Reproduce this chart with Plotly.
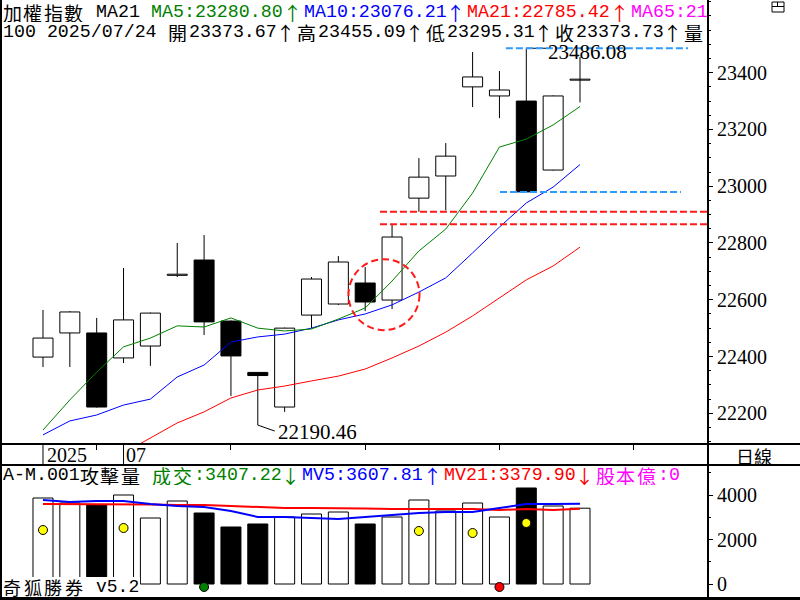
import plotly.graph_objects as go

# ---------------- data ----------------
dates = ["2025/06/26", "2025/06/27", "2025/06/30", "2025/07/01", "2025/07/02",
         "2025/07/03", "2025/07/04", "2025/07/07", "2025/07/08", "2025/07/09",
         "2025/07/10", "2025/07/11", "2025/07/14", "2025/07/15", "2025/07/16",
         "2025/07/17", "2025/07/18", "2025/07/21", "2025/07/22", "2025/07/23",
         "2025/07/24"]
opens = [22398, 22483, 22483, 22395, 22437, 22686, 22740, 22525, 22344, 22222,
         22546, 22585, 22659, 22599, 22958, 23036, 23350, 23318, 23300, 23057, 23373.67]
highs = [22564, 22560, 22536, 22712, 22555, 22800, 22828, 22527, 22345, 22502,
         22680, 22754, 22715, 22866, 23099, 23152, 23473, 23406, 23486.08, 23320, 23455.09]
lows = [22363, 22363, 22220, 22377, 22367, 22680, 22476, 22261, 22190.46, 22205,
        22500, 22582, 22560, 22567, 22910, 22915, 23279, 23240, 22978, 23055, 23295.31]
closes = [22465, 22557, 22222, 22529, 22553, 22690, 22522, 22402, 22333, 22500,
          22673, 22733, 22592, 22821, 23032, 23106, 23385, 23339, 22980, 23318, 23373.73]

ma5 = [22141, 22247, 22345, 22434, 22465, 22508, 22504, 22536, 22500, 22490,
       22497, 22532, 22571, 22666, 22772, 22849, 22976, 23138, 23166, 23216, 23280.80]
ma10 = [22124, 22173, 22194, 22229, 22250, 22328, 22370, 22451, 22469, 22479,
        22500, 22529, 22550, 22582, 22627, 22677, 22765, 22856, 22941, 22997, 23076.21]
ma21 = [None, None, None, 22060, 22113, 22166, 22205, 22254, 22282, 22296,
        22314, 22331, 22356, 22395, 22437, 22486, 22543, 22606, 22670, 22719, 22785.42]
ma65_label = "21"

volumes = [3865, 3640, 3551, 4000, 2966, 3730, 3191, 2562, 2697, 3011,
           3146, 3236, 2697, 3011, 3775, 3281, 3640, 3011, 4315, 3506, 3407.22]
mv5 = [3775, 3685, 3730, 3730, 3596, 3506, 3461, 3281, 3011, 3011,
       2966, 2921, 3011, 3101, 3191, 3236, 3236, 3416, 3596, 3596, 3607.81]
mv21 = [3596, 3596, 3596, 3596, 3573, 3551, 3551, 3506, 3461, 3416,
        3416, 3416, 3393, 3371, 3371, 3371, 3371, 3326, 3371, 3326, 3379.90]

yellow_idx = [0, 3, 14, 16, 18]
yellow_val = [2427, 2517, 2382, 2292, 2742]
green_idx = [6]
red_idx = [17]
signal_val = -135

price_ticks = [22200, 22400, 22600, 22800, 23000, 23200, 23400]
vol_ticks = [0, 2000, 4000]

# ---------------- geometry ----------------
W, H = 800, 600
XR = 708
def px(x):
    return x / W
def py(y):
    return 1 - y / H

n = len(dates)
idx = list(range(n))
x_range = [-1.601, 24.767]
y_range = [22091.8, 23656.1]
v_range = [-629, 5348]
BW = 0.745

SERIF = "Liberation Serif"
MONO = "Liberation Mono"
CJK = "Noto Sans CJK TC"

fig = go.Figure()

# candle wicks
wx, wy = [], []
for i in idx:
    top = max(opens[i], closes[i])
    bot = min(opens[i], closes[i])
    wx += [i, i, None, i, i, None]
    wy += [highs[i], top, None, bot, lows[i], None]
fig.add_trace(go.Scatter(x=wx, y=wy, mode="lines", line=dict(color="black", width=1),
                         xaxis="x", yaxis="y", hoverinfo="skip", showlegend=False))

# candle bodies
inc = [c >= o for o, c in zip(opens, closes)]
fig.add_trace(go.Bar(
    x=idx, y=[max(abs(c - o), 3.5) for o, c in zip(opens, closes)],
    base=[min(o, c) for o, c in zip(opens, closes)], width=BW,
    marker=dict(color=["white" if u else "black" for u in inc],
                line=dict(color="black", width=1)),
    xaxis="x", yaxis="y", showlegend=False, hoverinfo="skip"))

# moving averages
for vals, col in [(ma21, "#FF0000"), (ma10, "#0000FF"), (ma5, "#008000")]:
    fig.add_trace(go.Scatter(x=idx, y=vals, mode="lines", line=dict(color=col, width=1),
                             xaxis="x", yaxis="y", showlegend=False, hoverinfo="skip"))

# leader lines for high / low labels
lo_i = lows.index(min(lows))
hi_i = highs.index(max(highs))
fig.add_trace(go.Scatter(x=[lo_i, lo_i, lo_i + 0.63], y=[lows[lo_i], lows[lo_i] - 32, lows[lo_i] - 53],
                         mode="lines", line=dict(color="black", width=1),
                         xaxis="x", yaxis="y", showlegend=False, hoverinfo="skip"))
fig.add_trace(go.Scatter(x=[hi_i, hi_i + 0.75], y=[highs[hi_i], highs[hi_i]],
                         mode="lines", line=dict(color="black", width=1),
                         xaxis="x", yaxis="y", showlegend=False, hoverinfo="skip"))

# volume bars
fig.add_trace(go.Bar(
    x=idx, y=volumes, width=BW,
    marker=dict(color=["white" if u else "black" for u in inc],
                line=dict(color="black", width=1)),
    xaxis="x2", yaxis="y2", showlegend=False, hoverinfo="skip"))
for vals, col in [(mv21, "#FF0000"), (mv5, "#0000FF")]:
    fig.add_trace(go.Scatter(x=idx, y=vals, mode="lines", line=dict(color=col, width=2),
                             xaxis="x2", yaxis="y2", showlegend=False, hoverinfo="skip"))
fig.add_trace(go.Scatter(x=yellow_idx, y=yellow_val, mode="markers",
                         marker=dict(color="#FFFF00", size=9, line=dict(color="black", width=1)),
                         xaxis="x2", yaxis="y2", showlegend=False, hoverinfo="skip"))
fig.add_trace(go.Scatter(x=green_idx, y=[signal_val] * len(green_idx), mode="markers",
                         marker=dict(color="#008000", size=9, line=dict(color="black", width=1)),
                         xaxis="x2", yaxis="y2", showlegend=False, hoverinfo="skip", cliponaxis=False))
fig.add_trace(go.Scatter(x=red_idx, y=[signal_val] * len(red_idx), mode="markers",
                         marker=dict(color="#FF0000", size=9, line=dict(color="black", width=1)),
                         xaxis="x2", yaxis="y2", showlegend=False, hoverinfo="skip", cliponaxis=False))

# ---------------- shapes ----------------
shapes = []
def pline(x0, y0, x1, y1, w=2, color="black"):
    shapes.append(dict(type="line", xref="paper", yref="paper", x0=px(x0), y0=py(y0),
                       x1=px(x1), y1=py(y1), line=dict(color=color, width=w), layer="above"))

# white box behind bottom-left caption
shapes.append(dict(type="rect", xref="paper", yref="paper", x0=px(0), x1=px(140),
                   y0=py(597), y1=py(577), fillcolor="white", line=dict(width=0), layer="above"))

# gap lines (red) and high/close lines (blue)
gap_i = 13
for val in [highs[gap_i], lows[gap_i + 1]]:
    shapes.append(dict(type="line", xref="x", yref="y", x0=gap_i - 0.45, x1=x_range[1],
                       y0=val, y1=val, line=dict(color="#FF1A1A", width=2, dash="7px,3px"),
                       layer="above"))
shapes.append(dict(type="line", xref="x", yref="y", x0=hi_i - 0.76, x1=24.02,
                   y0=highs[hi_i], y1=highs[hi_i],
                   line=dict(color="#2E9BFF", width=2, dash="7px,3px"), layer="above"))
shapes.append(dict(type="line", xref="x", yref="y", x0=hi_i - 0.98, x1=23.76,
                   y0=closes[hi_i], y1=closes[hi_i],
                   line=dict(color="#2E9BFF", width=2, dash="7px,3px"), layer="above"))
# highlight circle
cx, cy = 12.70, 22618
shapes.append(dict(type="circle", xref="x", yref="y", x0=cx - 1.322, x1=cx + 1.322,
                   y0=cy - 125, y1=cy + 125,
                   line=dict(color="#FF1A1A", width=2, dash="7px,4px"), layer="above"))

# date-row separators
for i in [0, 3]:
    shapes.append(dict(type="line", xref="x", yref="paper", x0=i, x1=i,
                       y0=py(465), y1=py(444), line=dict(color="black", width=1), layer="above"))

# frame
pline(1, 0, 1, 600, 2)
pline(XR, 0, XR, 600, 2)
pline(0, 444, 800, 444, 2)
pline(0, 465, 800, 465, 2)
pline(0, 598.5, 800, 598.5, 3)
# small window icon top-right
shapes.append(dict(type="rect", xref="paper", yref="paper", x0=px(772), x1=px(784),
                   y0=py(12), y1=py(2), line=dict(color="black", width=1), layer="above"))
pline(772, 6.5, 784, 6.5, 1)
pline(777.5, 2, 777.5, 6.5, 1)

# ---------------- annotations ----------------
ann = []
HW, FW = 11.0, 20.5
BOXH = 20

def text_line(segments, x0, yc, lat=18.3, cjk=19):
    x = x0
    for s, color in segments:
        run, run_x = "", x
        for ch in s:
            if ord(ch) > 0x2000:
                if run.strip():
                    ann.append(dict(text=run.rstrip(), x=px(run_x), y=py(yc), xref="paper", yref="paper",
                                    xanchor="left", yanchor="middle", showarrow=False, borderpad=0,
                                    height=BOXH, valign="middle",
                                    font=dict(family=MONO, size=lat, color=color)))
                ann.append(dict(text=ch, x=px(x + FW / 2), y=py(yc), xref="paper", yref="paper",
                                xanchor="center", yanchor="middle", showarrow=False, borderpad=0,
                                height=BOXH, valign="middle",
                                font=dict(family=CJK, size=cjk, color=color)))
                x += FW
                run, run_x = "", x
            else:
                if ch == " " and run == "":
                    x += HW
                    run_x = x
                    continue
                run += ch
                x += HW
        if run.strip():
            ann.append(dict(text=run.rstrip(), x=px(run_x), y=py(yc), xref="paper", yref="paper",
                            xanchor="left", yanchor="middle", showarrow=False, borderpad=0,
                            height=BOXH, valign="middle",
                            font=dict(family=MONO, size=lat, color=color)))

last = n - 1
text_line([("加權指數 MA21 ", "black"),
           (f"MA5:{ma5[last]:.2f}↑", "#008000"),
           (f"MA10:{ma10[last]:.2f}↑", "#0000FF"),
           (f"MA21:{ma21[last]:.2f}↑", "#FF0000"),
           (f"MA65:{ma65_label}", "#FF00FF")], 2, 12)
text_line([(f"100 {dates[last]} 開{opens[last]:.2f}↑高{highs[last]:.2f}↑"
            f"低{lows[last]:.2f}↑收{closes[last]:.2f}↑量", "black")], 2, 32)
text_line([("A-M.001攻擊量 ", "black"),
           (f"成交:{volumes[last]:.2f}↓", "#008000"),
           (f"MV5:{mv5[last]:.2f}↑", "#0000FF"),
           (f"MV21:{mv21[last]:.2f}↓", "#FF0000"),
           ("股本億:0", "#FF00FF")], 2, 475)
text_line([("奇狐勝券 v5.2", "black")], 2, 586.5, lat=18, cjk=18)

# high / low value labels
ann.append(dict(text=f"{highs[hi_i]:.2f}", x=hi_i + 0.78, y=highs[hi_i], xref="x", yref="y",
                xanchor="left", yanchor="middle", yshift=-3, showarrow=False, borderpad=0,
                height=17, valign="middle",
                font=dict(family=SERIF, size=21, color="black")))
ann.append(dict(text=f"{lows[lo_i]:.2f}", x=lo_i + 0.70, y=lows[lo_i] - 56, xref="x", yref="y",
                xanchor="left", yanchor="middle", showarrow=False, borderpad=0,
                height=18, valign="middle",
                font=dict(family=SERIF, size=21, color="black")))
# date labels
ann.append(dict(text=dates[0][:4], x=0.11, y=py(455), xref="x", yref="paper", xanchor="left",
                yanchor="middle", showarrow=False, borderpad=0, height=18, valign="middle",
                font=dict(family=SERIF, size=20, color="black")))
ann.append(dict(text=dates[3][5:7], x=3.07, y=py(455), xref="x", yref="paper", xanchor="left",
                yanchor="middle", showarrow=False, borderpad=0, height=18, valign="middle",
                font=dict(family=SERIF, size=20, color="black")))
ann.append(dict(text="日線", x=px(754), y=py(455), xref="paper", yref="paper", xanchor="center",
                yanchor="middle", showarrow=False, borderpad=0, height=19, valign="middle",
                font=dict(family=CJK, size=18, color="black")))

fig.update_layout(
    width=W, height=H, margin=dict(l=0, r=0, t=0, b=0),
    paper_bgcolor="white", plot_bgcolor="white", showlegend=False,
    barmode="overlay",
    shapes=shapes, annotations=ann,
    xaxis=dict(domain=[0, px(XR)], range=x_range, anchor="y", showgrid=False, zeroline=False,
               showticklabels=False, tickmode="array", tickvals=[2, 7, 12, 17, 22],
               ticks="outside", ticklen=5, tickcolor="black", tickwidth=1, showline=False),
    yaxis=dict(domain=[py(444), 1], range=y_range, anchor="x", side="right",
               tickmode="array", tickvals=price_ticks, ticktext=[str(t) for t in price_ticks],
               ticks="outside", ticklen=4, tickcolor="black", tickwidth=1,
               minor=dict(dtick=50, tick0=0, ticks="outside", ticklen=2, tickcolor="black", showgrid=False),
               showgrid=False, zeroline=False, showline=False,
               tickfont=dict(family=SERIF, size=20, color="black")),
    xaxis2=dict(domain=[0, px(XR)], range=x_range, anchor="y2", matches="x", showgrid=False,
                zeroline=False, showticklabels=False, ticks="", showline=False),
    yaxis2=dict(domain=[py(598), py(465)], range=v_range, anchor="x2", side="right",
                tickmode="array", tickvals=vol_ticks, ticktext=[str(t) for t in vol_ticks],
                ticks="outside", ticklen=4, tickcolor="black", tickwidth=1,
                minor=dict(dtick=1000, tick0=0, ticks="outside", ticklen=2, tickcolor="black", showgrid=False),
                showgrid=False, zeroline=False, showline=False,
                tickfont=dict(family=SERIF, size=20, color="black")),
)

fig.write_html("out.html")
